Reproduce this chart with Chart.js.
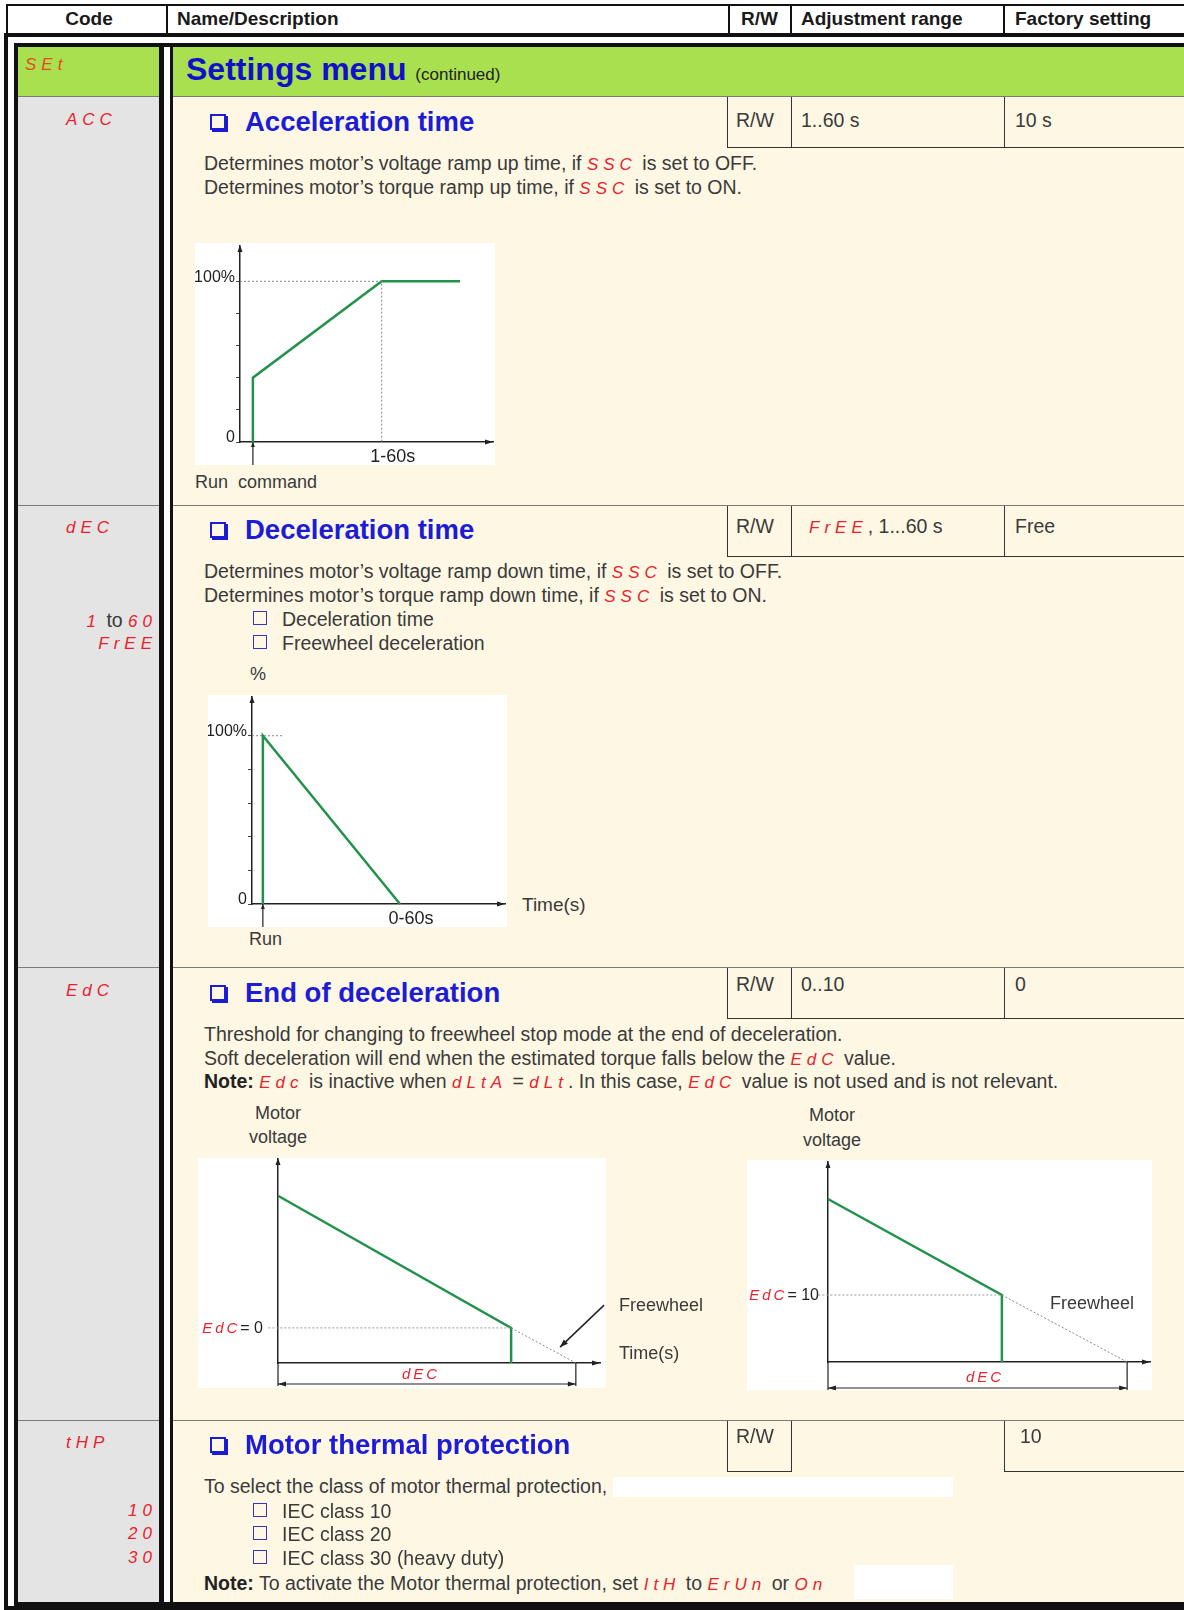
<!DOCTYPE html>
<html>
<head>
<meta charset="utf-8">
<script src="https://cdn.jsdelivr.net/npm/chart.js@4.4.1/dist/chart.umd.min.js"></script>
<style>
body{margin:0;width:1184px;height:1610px;overflow:hidden;background:#fff;font-family:'Liberation Sans',Arial,sans-serif;color:#3a3a3a;position:relative}
.a{position:absolute}
.t{position:absolute;white-space:nowrap;line-height:24px;height:24px;font-size:19.5px}
.h{font-weight:bold;color:#1a1a1a;font-size:19px}
.c{color:#e8222c;font-style:italic;letter-spacing:5px;font-size:17px}
.r{text-align:right}
.ctr{text-align:center;width:100px}
.ttl{position:absolute;white-space:nowrap;color:#1c1cd6;font-weight:bold;font-size:27.5px;line-height:30px;height:30px}
.cb{position:absolute;width:12px;height:12px;border:2px solid #1c1cd6;box-shadow:2px 2px 0 #1c1cd6}
.sq{position:absolute;width:12px;height:12px;border:1.5px solid #3434c8}
.ln{position:absolute;background:#333}
.sep{position:absolute;background:#7a7a7a;height:1px}
canvas{position:absolute;background:#fff}
</style>
</head>
<body>
<!-- table frame -->
<div class="a" style="left:6px;top:4px;width:1190px;height:30px;border-top:2px solid #111;border-left:2px solid #111;box-sizing:border-box"></div>
<div class="ln" style="left:166px;top:4px;width:2px;height:30px;background:#111"></div>
<div class="ln" style="left:728px;top:4px;width:2px;height:30px;background:#111"></div>
<div class="ln" style="left:790px;top:4px;width:2px;height:30px;background:#111"></div>
<div class="ln" style="left:1003px;top:4px;width:2px;height:30px;background:#111"></div>
<div class="a" style="left:4px;top:33px;width:1200px;height:1577px;border:4px solid #111;box-sizing:border-box"></div>
<div class="a" style="left:14px;top:43px;width:1190px;height:1563px;border:4px solid #111;box-sizing:border-box"></div>
<div class="a" style="left:18px;top:47px;width:141px;height:1555px;background:#e4e4e4"></div>
<div class="a" style="left:173px;top:47px;width:1011px;height:1555px;background:#fdf7e4"></div>
<div class="a" style="left:18px;top:47px;width:141px;height:49px;background:#a8e050"></div>
<div class="a" style="left:173px;top:47px;width:1011px;height:49px;background:#a8e050"></div>
<div class="ln" style="left:159px;top:47px;width:5px;height:1555px;background:#111"></div>
<div class="ln" style="left:170px;top:47px;width:3px;height:1555px;background:#111"></div>
<div class="sep" style="left:18px;top:96px;width:141px"></div><div class="sep" style="left:173px;top:96px;width:1011px"></div>
<div class="sep" style="left:18px;top:505px;width:141px"></div><div class="sep" style="left:173px;top:505px;width:1011px"></div>
<div class="sep" style="left:18px;top:967px;width:141px"></div><div class="sep" style="left:173px;top:967px;width:1011px"></div>
<div class="sep" style="left:18px;top:1420px;width:141px"></div><div class="sep" style="left:173px;top:1420px;width:1011px"></div>

<!-- header -->
<div class="t h ctr" style="left:39px;top:7px">Code</div>
<div class="t h" style="left:177px;top:7px">Name/Description</div>
<div class="t h" style="left:741px;top:7px">R/W</div>
<div class="t h" style="left:801px;top:7px">Adjustment range</div>
<div class="t h" style="left:1015px;top:7px">Factory setting</div>

<!-- SEt -->
<div class="t c" style="left:25px;top:53px;color:#e84a1c">SEt</div>
<div class="a" style="left:186px;top:51px;white-space:nowrap;line-height:36px;color:#1010cc;font-weight:bold;font-size:32px">Settings menu <span style="font-weight:normal;font-size:17px;color:#222">(continued)</span></div>

<!-- cell boxes -->
<div class="ln" style="left:727px;top:97px;width:1px;height:50px"></div>
<div class="ln" style="left:791px;top:97px;width:1px;height:50px"></div>
<div class="ln" style="left:1004px;top:97px;width:1px;height:50px"></div>
<div class="ln" style="left:727px;top:147px;width:457px;height:1px"></div>
<div class="ln" style="left:727px;top:506px;width:1px;height:50px"></div>
<div class="ln" style="left:791px;top:506px;width:1px;height:50px"></div>
<div class="ln" style="left:1004px;top:506px;width:1px;height:50px"></div>
<div class="ln" style="left:727px;top:556px;width:457px;height:1px"></div>
<div class="ln" style="left:727px;top:968px;width:1px;height:50px"></div>
<div class="ln" style="left:791px;top:968px;width:1px;height:50px"></div>
<div class="ln" style="left:1004px;top:968px;width:1px;height:50px"></div>
<div class="ln" style="left:727px;top:1018px;width:457px;height:1px"></div>
<div class="ln" style="left:727px;top:1421px;width:1px;height:50px"></div>
<div class="ln" style="left:791px;top:1421px;width:1px;height:50px"></div>
<div class="ln" style="left:1004px;top:1421px;width:1px;height:50px"></div>
<div class="ln" style="left:727px;top:1471px;width:65px;height:1px"></div>
<div class="ln" style="left:1004px;top:1471px;width:180px;height:1px"></div>

<!-- ACC -->
<div class="t c" style="left:66px;top:108px">ACC</div>
<div class="cb" style="left:210px;top:114px"></div>
<div class="ttl" style="left:245px;top:107px">Acceleration time</div>
<div class="t" style="left:736px;top:108px">R/W</div>
<div class="t" style="left:801px;top:108px">1..60 s</div>
<div class="t" style="left:1015px;top:108px">10 s</div>
<div class="t" style="left:204px;top:151px">Determines motor’s voltage ramp up time, if <span class="c">SSC</span> is set to OFF.</div>
<div class="t" style="left:204px;top:175px">Determines motor’s torque ramp up time, if <span class="c">SSC</span> is set to ON.</div>
<canvas id="accChart" width="300" height="222" style="left:195px;top:243px"></canvas>
<div class="t" style="left:195px;top:470px;font-size:18px">Run&nbsp; command</div>

<!-- dEC -->
<div class="t c" style="left:66px;top:516px">dEC</div>
<div class="t r" style="right:1027px;top:608px"><span class="c">1</span> to <span class="c">60</span></div>
<div class="t r c" style="right:1027px;top:632px">FrEE</div>
<div class="cb" style="left:210px;top:522px"></div>
<div class="ttl" style="left:245px;top:515px">Deceleration time</div>
<div class="t" style="left:736px;top:514px">R/W</div>
<div class="t" style="left:809px;top:514px"><span class="c">FrEE</span>, 1...60 s</div>
<div class="t" style="left:1015px;top:514px">Free</div>
<div class="t" style="left:204px;top:559px">Determines motor’s voltage ramp down time, if <span class="c">SSC</span> is set to OFF.</div>
<div class="t" style="left:204px;top:583px">Determines motor’s torque ramp down time, if <span class="c">SSC</span> is set to ON.</div>
<div class="sq" style="left:253px;top:611px"></div>
<div class="t" style="left:282px;top:607px">Deceleration time</div>
<div class="sq" style="left:253px;top:635px"></div>
<div class="t" style="left:282px;top:631px">Freewheel deceleration</div>
<div class="t" style="left:250px;top:662px;font-size:18px">%</div>
<canvas id="decChart" width="299" height="232" style="left:208px;top:695px"></canvas>
<div class="t" style="left:522px;top:893px;font-size:19px">Time(s)</div>
<div class="t" style="left:249px;top:927px;font-size:18px">Run</div>

<!-- EdC -->
<div class="t c" style="left:66px;top:979px">EdC</div>
<div class="cb" style="left:210px;top:985px"></div>
<div class="ttl" style="left:245px;top:978px">End of deceleration</div>
<div class="t" style="left:736px;top:972px">R/W</div>
<div class="t" style="left:801px;top:972px">0..10</div>
<div class="t" style="left:1015px;top:972px">0</div>
<div class="t" style="left:204px;top:1022px">Threshold for changing to freewheel stop mode at the end of deceleration.</div>
<div class="t" style="left:204px;top:1046px">Soft deceleration will end when the estimated torque falls below the <span class="c">EdC</span> value.</div>
<div class="t" style="left:204px;top:1069px"><b style="color:#222">Note:</b> <span class="c">Edc</span> is inactive when <span class="c">dLtA</span> = <span class="c">dLt</span>. In this case, <span class="c">EdC</span> value is not used and is not relevant.</div>
<div class="t ctr" style="left:228px;top:1101px;font-size:18px">Motor</div>
<div class="t ctr" style="left:228px;top:1125px;font-size:18px">voltage</div>
<div class="t ctr" style="left:782px;top:1103px;font-size:18px">Motor</div>
<div class="t ctr" style="left:782px;top:1128px;font-size:18px">voltage</div>
<canvas id="edc0Chart" width="408" height="230" style="left:198px;top:1158px"></canvas>
<canvas id="edc10Chart" width="405" height="230" style="left:747px;top:1160px"></canvas>
<div class="t r" style="right:921px;top:1316px;font-size:16px"><span class="c" style="font-size:15px;letter-spacing:3px">EdC</span><span style="color:#222">= 0</span></div>
<div class="t r" style="right:365px;top:1283px;font-size:16px"><span class="c" style="font-size:15px;letter-spacing:3px">EdC</span><span style="color:#222">= 10</span></div>
<div class="t" style="left:619px;top:1293px;font-size:18px">Freewheel</div>
<div class="t" style="left:619px;top:1341px;font-size:18px">Time(s)</div>
<div class="t" style="left:1050px;top:1291px;font-size:18px">Freewheel</div>
<div class="t c ctr" style="left:371px;top:1362px;font-size:15px;letter-spacing:3px">dEC</div>
<div class="t c ctr" style="left:935px;top:1365px;font-size:15px;letter-spacing:3px">dEC</div>

<!-- tHP -->
<div class="t c" style="left:66px;top:1431px">tHP</div>
<div class="t r c" style="right:1027px;top:1499px">10</div>
<div class="t r c" style="right:1027px;top:1522px">20</div>
<div class="t r c" style="right:1027px;top:1546px">30</div>
<div class="cb" style="left:210px;top:1437px"></div>
<div class="ttl" style="left:245px;top:1430px">Motor thermal protection</div>
<div class="t" style="left:736px;top:1424px">R/W</div>
<div class="t" style="left:1020px;top:1424px">10</div>
<div class="t" style="left:204px;top:1474px">To select the class of motor thermal protection,</div>
<div class="a" style="left:613px;top:1477px;width:340px;height:20px;background:#fff"></div>
<div class="sq" style="left:253px;top:1503px"></div>
<div class="t" style="left:282px;top:1499px">IEC class 10</div>
<div class="sq" style="left:253px;top:1526px"></div>
<div class="t" style="left:282px;top:1522px">IEC class 20</div>
<div class="sq" style="left:253px;top:1550px"></div>
<div class="t" style="left:282px;top:1546px">IEC class 30 (heavy duty)</div>
<div class="t" style="left:204px;top:1571px"><b style="color:#222">Note:</b> To activate the Motor thermal protection, set <span class="c">ItH</span> to <span class="c">ErUn</span> or <span class="c">On</span></div>
<div class="a" style="left:854px;top:1565px;width:99px;height:34px;background:#fff"></div>

<script>
// Acceleration ramp (x: time units, y: %)
const accX = [5.1, 5.1, 56, 87];
const accY = [0, 40, 100, 100];
const accGuideX = [0, 56, 56];
const accGuideY = [100, 100, 0];
const accRun = 5.1;
const accTicksX = [56];
const accLabelsX = ['1-60s'];

// Deceleration ramp
const decX = [4.3, 4.3, 58.5];
const decY = [0, 100, 0];
const decGuideX = [0, 12];
const decGuideY = [100, 100];
const decRun = 4.3;
const decTicksX = [58.5];
const decLabelsX = ['0-60s'];

const pctTicks = [0, 20, 40, 60, 80, 100];
const pctLabels = ['0', '', '', '', '', '100%'];

// End of deceleration, EdC = 0
const edc0X = [0, 72.4, 72.4];
const edc0Y = [82, 17.2, 0];
const edc0FreeX = [72.4, 92.5];
const edc0FreeY = [17.2, 0];
const edc0LevelX = [-3, 72.4];
const edc0LevelY = [17.2, 17.2];
const edc0Dim = [0, 92.5];

// End of deceleration, EdC = 10
const edc10X = [0, 54, 54];
const edc10Y = [81.5, 33.5, 0];
const edc10FreeX = [54, 92.9];
const edc10FreeY = [33.5, 0];
const edc10LevelX = [-3, 54];
const edc10LevelY = [33.5, 33.5];
const edc10Dim = [0, 92.9];

Chart.defaults.font.family = "'Liberation Sans', Arial, sans-serif";
Chart.defaults.color = '#222';

const VERT = '#22924a';

function serie(xs, ys, color, width, dash) {
    return {
        data: xs.map((v, i) => ({ x: v, y: ys[i] })),
        showLine: true,
        borderColor: color,
        borderWidth: width,
        borderDash: dash || [],
        pointRadius: 0,
        tension: 0,
        fill: false,
        clip: false
    };
}

function pointe(ctx, x, y, dx, dy, len, w) {
    ctx.beginPath();
    ctx.moveTo(x, y);
    ctx.lineTo(x - dx * len - dy * w, y - dy * len + dx * w);
    ctx.lineTo(x - dx * len + dy * w, y - dy * len - dx * w);
    ctx.closePath();
    ctx.fill();
}

// fleches des axes, marque "Run", cotes et pointeur
const schema = {
    id: 'schema',
    afterDraw(chart, args, o) {
        const { ctx, chartArea: a, scales: { x, y } } = chart;
        ctx.save();
        ctx.strokeStyle = '#222';
        ctx.fillStyle = '#222';
        ctx.lineWidth = 1.2;
        pointe(ctx, a.left, a.top - 1, 0, -1, 7, 2.5);
        pointe(ctx, a.right, a.bottom, 1, 0, 8, 2.5);
        if (o.run != null) {
            const px = x.getPixelForValue(o.run);
            ctx.beginPath();
            ctx.moveTo(px, a.bottom);
            ctx.lineTo(px, a.bottom + o.runDrop);
            ctx.stroke();
            pointe(ctx, px, a.bottom, 0, -1, 5, 2);
        }
        if (o.dim) {
            const x0 = x.getPixelForValue(o.dim[0]);
            const x1 = x.getPixelForValue(o.dim[1]);
            const yy = a.bottom + o.dimDrop;
            ctx.beginPath();
            ctx.moveTo(x0, a.bottom); ctx.lineTo(x0, yy + 2);
            ctx.moveTo(x1, a.bottom); ctx.lineTo(x1, yy + 2);
            ctx.moveTo(x0, yy); ctx.lineTo(x1, yy);
            ctx.stroke();
            pointe(ctx, x0, yy, -1, 0, 8, 2.5);
            pointe(ctx, x1, yy, 1, 0, 8, 2.5);
        }
        if (o.pointer) {
            const px = x.getPixelForValue(o.pointer.x);
            const py = y.getPixelForValue(o.pointer.y);
            ctx.lineWidth = 1.5;
            ctx.beginPath();
            ctx.moveTo(px + o.pointer.dx, py + o.pointer.dy);
            ctx.lineTo(px, py);
            ctx.stroke();
            const n = Math.hypot(o.pointer.dx, o.pointer.dy);
            pointe(ctx, px, py, -o.pointer.dx / n, -o.pointer.dy / n, 8, 3);
        }
        ctx.restore();
    }
};

function caler(s, prop, val) {
    s[prop] = val;
    s.paddingTop = 0;
    s.paddingBottom = 0;
    s.paddingLeft = 0;
    s.paddingRight = 0;
}

function schemaChart(id, c) {
    const xScale = {
        type: 'linear', min: 0, max: 100,
        afterFit: s => caler(s, 'height', c.xh),
        border: { color: '#222', width: 1.5 },
        grid: { drawOnChartArea: false, drawTicks: false },
        ticks: { display: false }
    };
    if (c.xTicks) {
        xScale.afterBuildTicks = s => { s.ticks = c.xTicks.map(v => ({ value: v })); };
        xScale.ticks = {
            display: true, autoSkip: false, maxRotation: 0, padding: 4, labelOffset: 11,
            font: { size: 18 }, color: '#222',
            callback: (v, i) => c.xLabels[i]
        };
    }
    const yScale = {
        type: 'linear', min: 0, max: c.ymax,
        afterFit: s => caler(s, 'width', c.yw),
        border: { color: '#222', width: 1.5 },
        grid: { drawOnChartArea: false, drawTicks: false },
        ticks: { display: false }
    };
    if (c.yTicks) {
        yScale.afterBuildTicks = s => { s.ticks = c.yTicks.map(v => ({ value: v })); };
        yScale.grid = { drawOnChartArea: false, drawTicks: true, tickLength: 4, color: '#444' };
        yScale.ticks = {
            display: true, autoSkip: false, padding: 1, labelOffset: -4,
            font: { size: 16 }, color: '#222',
            callback: (v, i) => c.yLabels[i]
        };
    }
    return new Chart(document.getElementById(id), {
        type: 'scatter',
        data: { datasets: c.datasets },
        options: {
            responsive: false,
            animation: false,
            events: [],
            layout: { padding: c.pad, autoPadding: false },
            plugins: { legend: { display: false }, tooltip: { enabled: false }, schema: c.schema },
            scales: { x: xScale, y: yScale }
        },
        plugins: [schema]
    });
}

schemaChart('accChart', {
    datasets: [
        serie(accGuideX, accGuideY, '#888', 1, [2, 2]),
        serie(accX, accY, VERT, 2.5)
    ],
    xh: 23, yw: 45, ymax: 122, pad: { top: 3, right: 2, left: 0, bottom: 0 },
    xTicks: accTicksX, xLabels: accLabelsX, yTicks: pctTicks, yLabels: pctLabels,
    schema: { run: accRun, runDrop: 23 }
});

schemaChart('decChart', {
    datasets: [
        serie(decGuideX, decGuideY, '#888', 1, [2, 2]),
        serie(decX, decY, VERT, 2.5)
    ],
    xh: 23, yw: 44, ymax: 123, pad: { top: 2, right: 2, left: 0, bottom: 0 },
    xTicks: decTicksX, xLabels: decLabelsX, yTicks: pctTicks, yLabels: pctLabels,
    schema: { run: decRun, runDrop: 23 }
});

schemaChart('edc0Chart', {
    datasets: [
        serie(edc0LevelX, edc0LevelY, '#999', 1, [2, 2]),
        serie(edc0FreeX, edc0FreeY, '#888', 1, [2, 2]),
        serie(edc0X, edc0Y, VERT, 2.5)
    ],
    xh: 25, yw: 80, ymax: 100, pad: { top: 1, right: 6, left: 0, bottom: 0 },
    schema: { dim: edc0Dim, dimDrop: 21, pointer: { x: 87.6, y: 7.8, dx: 44, dy: -42 } }
});

schemaChart('edc10Chart', {
    datasets: [
        serie(edc10LevelX, edc10LevelY, '#999', 1, [2, 2]),
        serie(edc10FreeX, edc10FreeY, '#888', 1, [2, 2]),
        serie(edc10X, edc10Y, VERT, 2.5)
    ],
    xh: 28, yw: 81, ymax: 100, pad: { top: 2, right: 2, left: 0, bottom: 0 },
    schema: { dim: edc10Dim, dimDrop: 26 }
});
</script>
</body>
</html>
